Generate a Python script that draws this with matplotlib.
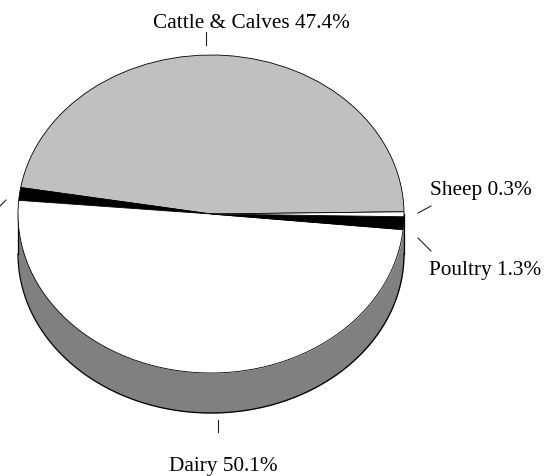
import numpy as np
import matplotlib
matplotlib.use("Agg")
import matplotlib.pyplot as plt

plt.rcParams['font.family'] = ['Liberation Serif', 'DejaVu Serif']

# slices as drawn, counter clockwise from the right hand side
names = ["Cattle & Calves", "Other", "Dairy", "Poultry", "Sheep"]
shares = [47.4, 1.3, 50.1, 1.3, 0.5]
top_colors = ["#c0c0c0", "#000000", "#ffffff", "#000000", "#ffffff"]

# printed labels, the one of the "Other" slice falls outside of the picture
label_names = ["Cattle & Calves", "Sheep", "Poultry", "Dairy"]
label_shares = [47.4, 0.3, 1.3, 50.1]

W, H = 559, 477
CX, CY = 211, 215      # centre of the top face, pixels
RX, RY = 193, 159      # radii of the top face, pixels
DEPTH = 40 / RY        # wall height in pie units

fig = plt.figure(figsize=(W / 100, H / 100), dpi=100)
ax = fig.add_axes([0, 0, 1, 1])

# wall of the pie below the front half of the ellipse
t = np.linspace(np.pi, 2 * np.pi, 400)
ax.fill_between(np.cos(t), np.sin(t) - DEPTH, np.sin(t), color="#808080", lw=0, zorder=1)
ax.plot(np.cos(t), np.sin(t) - DEPTH, color="black", lw=0.9, zorder=2)
ax.plot([-1, -1], [0, -DEPTH], color="black", lw=0.9, zorder=2)
ax.plot([1, 1], [0, -DEPTH], color="black", lw=0.9, zorder=2)

wedges, _ = ax.pie(shares, colors=top_colors, startangle=0.8, counterclock=True,
                   wedgeprops={"edgecolor": "black", "linewidth": 0.6, "zorder": 3})

# pie() forces equal aspect, the chart is tilted so undo that
ax.set_aspect("auto")
ax.set_xlim(-CX / RX, (W - CX) / RX)
ax.set_ylim((CY - H) / RY, CY / RY)
ax.axis("off")


def px(x, y):
    return x / W, 1 - y / H


label_pos = [(251, 23), (480.5, 190), (485.5, 270), (223, 467)]
for name, share, pos in zip(label_names, label_shares, label_pos):
    fx, fy = px(*pos)
    fig.text(fx, fy, f"{name} {share}%", ha="center", va="center", fontsize=15.3, color="black")

leaders = [((205.5, 33), (205.5, 46)), ((418, 214), (431, 207)), ((418, 239), (431, 252)),
           ((218, 421), (218, 433)), ((0, 207), (6, 201))]
for a, b in leaders:
    fig.add_artist(plt.Line2D(*zip(px(*a), px(*b)), color="#222222", lw=0.8))

fig.savefig("out.png", dpi=100)
